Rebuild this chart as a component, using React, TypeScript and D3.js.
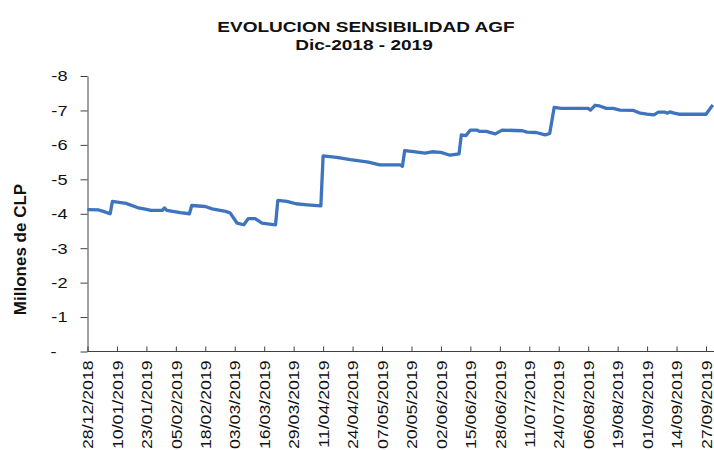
import * as d3 from 'd3'
import { useEffect, useMemo, useRef } from 'react'

const W = 714
const H = 450

// sensitivity series (millones de CLP)
const dates = [
  '28/12/2018', '02/01/2019', '04/01/2019', '07/01/2019', '08/01/2019', '14/01/2019',
  '19/01/2019', '23/01/2019', '25/01/2019', '30/01/2019', '31/01/2019', '01/02/2019',
  '07/02/2019', '11/02/2019', '12/02/2019', '18/02/2019', '21/02/2019', '27/02/2019',
  '01/03/2019', '04/03/2019', '07/03/2019', '09/03/2019', '12/03/2019', '15/03/2019',
  '21/03/2019', '22/03/2019', '26/03/2019', '30/03/2019', '04/04/2019', '10/04/2019',
  '11/04/2019', '17/04/2019', '23/04/2019', '01/05/2019', '06/05/2019', '15/05/2019',
  '16/05/2019', '17/05/2019', '20/05/2019', '26/05/2019', '29/05/2019', '02/06/2019',
  '06/06/2019', '10/06/2019', '11/06/2019', '13/06/2019', '15/06/2019', '18/06/2019',
  '19/06/2019', '22/06/2019', '26/06/2019', '29/06/2019', '08/07/2019', '10/07/2019',
  '14/07/2019', '18/07/2019', '20/07/2019', '22/07/2019', '25/07/2019', '06/08/2019',
  '07/08/2019', '09/08/2019', '11/08/2019', '14/08/2019', '17/08/2019', '20/08/2019',
  '26/08/2019', '29/08/2019', '01/09/2019', '04/09/2019', '06/09/2019', '09/09/2019',
  '10/09/2019', '11/09/2019', '13/09/2019', '15/09/2019', '27/09/2019', '30/09/2019',
]
const values = [
  -4.12, -4.11, -4.07, -4.0, -4.36, -4.3,
  -4.18, -4.13, -4.1, -4.1, -4.17, -4.1,
  -4.03, -4.0, -4.24, -4.21, -4.14, -4.07,
  -4.02, -3.73, -3.68, -3.86, -3.86, -3.73,
  -3.68, -4.39, -4.36, -4.29, -4.26, -4.23,
  -5.68, -5.64, -5.57, -5.5, -5.42, -5.42,
  -5.38, -5.83, -5.81, -5.76, -5.8, -5.78,
  -5.7, -5.74, -6.29, -6.27, -6.43, -6.43,
  -6.39, -6.39, -6.32, -6.43, -6.41, -6.37,
  -6.36, -6.29, -6.33, -7.09, -7.06, -7.06,
  -7.01, -7.15, -7.13, -7.06, -7.06, -7.01,
  -7.0, -6.92, -6.89, -6.87, -6.95, -6.95,
  -6.92, -6.96, -6.92, -6.89, -6.89, -7.16,
]
const tickLabels = [
  '28/12/2018', '10/01/2019', '23/01/2019', '05/02/2019', '18/02/2019', '03/03/2019',
  '16/03/2019', '29/03/2019', '11/04/2019', '24/04/2019', '07/05/2019', '20/05/2019',
  '02/06/2019', '15/06/2019', '28/06/2019', '11/07/2019', '24/07/2019', '06/08/2019',
  '19/08/2019', '01/09/2019', '14/09/2019', '27/09/2019',
]
const yTicks = [0, -1, -2, -3, -4, -5, -6, -7, -8]
const titleLines = ['EVOLUCION SENSIBILIDAD AGF', 'Dic-2018 - 2019']

const parseDate = d3.timeParse('%d/%m/%Y')
const font = '"Liberation Sans", Arial, sans-serif'

const App = () => {
  const xAxisRef = useRef<SVGGElement>(null)
  const yAxisRef = useRef<SVGGElement>(null)

  const data = useMemo(
    () => dates.map((d, i) => ({ date: parseDate(d) as Date, value: values[i] })),
    []
  )
  const tickDates = useMemo(() => tickLabels.map((d) => parseDate(d) as Date), [])

  const x = useMemo(
    () => d3.scaleTime().domain([tickDates[0], tickDates[tickDates.length - 1]]).range([87.5, 706]),
    [tickDates]
  )
  const y = useMemo(() => d3.scaleLinear().domain([0, -8]).range([351.5, 76]), [])

  useEffect(() => {
    const fmt = d3.timeFormat('%d/%m/%Y')
    const gx = d3.select(xAxisRef.current)
    gx.selectAll('*').remove()
    gx.attr('transform', `translate(0, ${y(0)})`).call(
      d3.axisBottom(x).tickValues(tickDates).tickSize(-5).tickSizeOuter(0).tickFormat((d) => fmt(d as Date))
    )
    gx.select('.domain').attr('stroke', '#404040').attr('d', `M${x.range()[0]},0H${W}`)
    gx.selectAll('.tick line').attr('stroke', '#404040')
    gx.selectAll('.tick text')
      .attr('fill', '#111')
      .attr('font-family', font)
      .attr('font-size', 14.5)
      .attr('text-anchor', 'end')
      .attr('x', 0)
      .attr('y', 0)
      .attr('dy', '0.36em')
      .attr('transform', 'translate(0, 9) rotate(-90) scale(1.22, 1)')

    const gy = d3.select(yAxisRef.current)
    gy.selectAll('*').remove()
    gy.attr('transform', `translate(${x.range()[0]}, 0)`).call(
      d3.axisLeft(y).tickValues(yTicks).tickSize(7).tickSizeOuter(0).tickFormat((d) => (d === 0 ? '-' : String(d)))
    )
    gy.select('.domain').attr('stroke', '#404040')
    gy.selectAll('.tick line').attr('stroke', '#404040')
    gy.selectAll('.tick text')
      .attr('fill', '#111')
      .attr('font-family', font)
      .attr('font-size', 14)
      .attr('x', (d) => (d === 0 ? -31 : -20))
      .attr('dy', '0.35em')
      .attr('transform', 'scale(1.3, 1)')
      .attr('transform-origin', (d) => `${d === 0 ? -31 : -20} ${y(d as number)}`)
  }, [x, y, tickDates])

  const line = d3
    .line<{ date: Date; value: number }>()
    .x((d) => x(d.date))
    .y((d) => y(d.value))

  return (
    <svg
      width={W}
      height={H}
      style={{ position: 'absolute', left: 0, top: 0, background: '#fff' }}
    >
      <g fontFamily={font} fontWeight="bold" fill="#111" textAnchor="middle">
        <text transform="translate(366, 32.3) scale(1.27, 1)" fontSize={15}>
          {titleLines[0]}
        </text>
        <text transform="translate(364, 49.8) scale(1.27, 1)" fontSize={15}>
          {titleLines[1]}
        </text>
        <text transform="translate(26, 249.5) rotate(-90)" fontSize={17}>
          Millones de CLP
        </text>
      </g>
      <g ref={yAxisRef} />
      <g ref={xAxisRef} />
      <path d={line(data) ?? ''} fill="none" stroke="#3E74BE" strokeWidth={3.3} strokeLinejoin="round" />
    </svg>
  )
}

export default App
